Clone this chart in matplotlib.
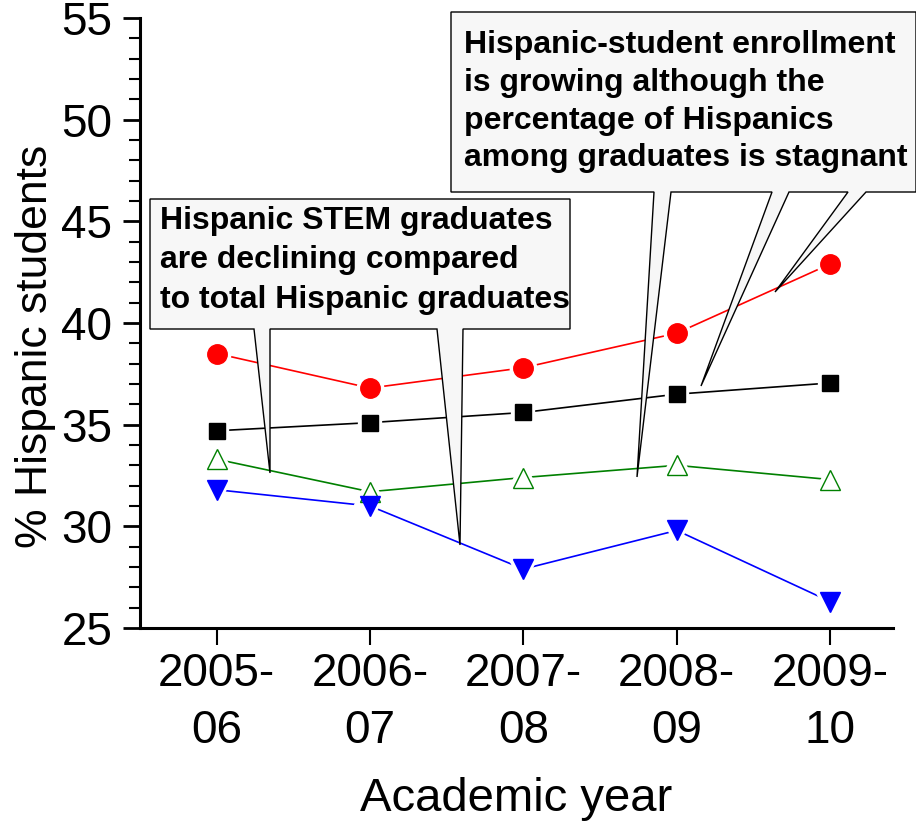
import matplotlib
matplotlib.use('Agg')
from matplotlib import pyplot as plt
from matplotlib.patches import Polygon
from matplotlib.ticker import MultipleLocator

plt.rcParams['font.family'] = ['Liberation Sans', 'DejaVu Sans']

# Dane wykresu.
years = ['2005-\n06', '2006-\n07', '2007-\n08', '2008-\n09', '2009-\n10']
enrollment = [38.5, 36.8, 37.8, 39.5, 42.9]        # red circles
graduates = [34.7, 35.1, 35.6, 36.5, 37.05]        # black squares
stem_grads = [33.3, 31.7, 32.4, 33.0, 32.3]        # green open triangles
stem_subset = [31.8, 31.0, 27.9, 29.8, 26.3]       # blue down triangles

note_left = "Hispanic STEM graduates\nare declining compared\nto total Hispanic graduates"
note_right = ("Hispanic-student enrollment\nis growing although the\n"
              "percentage of Hispanics\namong graduates is stagnant")

W, H = 916, 824
fig = plt.figure(figsize=(W / 100, H / 100), dpi=100)
ax = fig.add_axes([140 / W, 1 - 628 / H, (893 - 140) / W, (628 - 18) / H])

x = list(range(len(years)))
series = [
    (enrollment, 'red', 'o', 14, 'red'),
    (graduates, 'black', 's', 11.5, 'black'),
    (stem_grads, 'green', '^', 15, 'white'),
    (stem_subset, 'blue', 'v', 15, 'blue'),
]
for vals, col, mk, ms, fc in series:
    ax.plot(x, vals, color=col, lw=1.2, zorder=2)
    # white halo so the lines stop short of the markers
    ax.plot(x, vals, ls='none', marker=mk, ms=ms, mfc='white', mec='white',
            mew=6, zorder=3)
    ax.plot(x, vals, ls='none', marker=mk, ms=ms, mfc=fc, mec=col,
            mew=1.0, zorder=4)

ax.set_xlim(-0.5, 4.41)
ax.set_ylim(25, 55)
ax.set_xticks(x)
ax.set_xticklabels(years, fontsize=33, linespacing=1.4)
ax.yaxis.set_major_locator(MultipleLocator(5))
ax.yaxis.set_minor_locator(MultipleLocator(1))
ax.tick_params(axis='y', which='major', labelsize=33, length=12, width=2, direction='out', pad=8)
ax.tick_params(axis='y', which='minor', length=8, width=1.5, direction='out')
ax.tick_params(axis='x', which='major', length=12, width=1.5, direction='out', pad=5)
for s in ['top', 'right']:
    ax.spines[s].set_visible(False)
ax.spines['left'].set_linewidth(2.2)
ax.spines['bottom'].set_linewidth(2.2)
ax.set_ylabel('% Hispanic students', fontsize=32)
ax.yaxis.set_label_coords(-0.112, 0.461)
ax.set_xlabel('Academic year', fontsize=34, labelpad=17)


# Dymki z komentarzami (wspolrzedne w pikselach obrazka).
def px(pts):
    return [(a / W, 1 - b / H) for a, b in pts]


box_left = [(150, 199), (570, 199), (570, 329), (463, 329), (460, 545), (437, 329),
            (270, 329), (270, 473), (254, 329), (150, 329)]
box_right = [(451, 12), (916, 12), (916, 192), (866, 192), (775, 292), (848, 192),
             (789, 192), (701, 386), (772, 192), (671, 192), (637, 477), (654, 192),
             (451, 192)]
for pts in [box_left, box_right]:
    fig.patches.append(Polygon(px(pts), closed=True, transform=fig.transFigure,
                               facecolor='#f7f7f7', edgecolor='black', lw=1.0,
                               zorder=5))

fig.text(160 / W, 1 - 206 / H, note_left, fontsize=23, fontweight='bold',
         va='top', ha='left', linespacing=1.41, zorder=6)
fig.text(464 / W, 1 - 30 / H, note_right, fontsize=23, fontweight='bold',
         va='top', ha='left', linespacing=1.34, zorder=6)

plt.savefig('out.png', dpi=100)
